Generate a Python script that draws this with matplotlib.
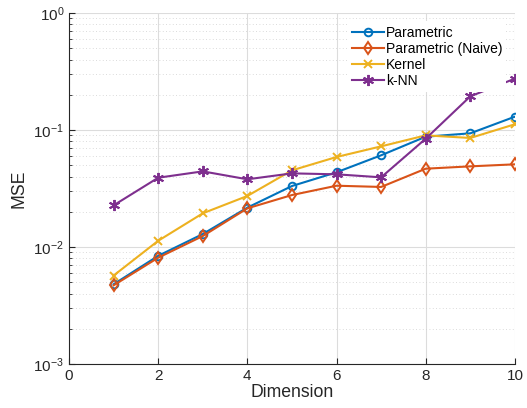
import matplotlib
matplotlib.use("Agg")
import matplotlib.pyplot as plt
from matplotlib.ticker import LogLocator, NullFormatter

plt.rcParams['font.family'] = ['Liberation Sans', 'DejaVu Sans']
plt.rcParams['mathtext.fontset'] = 'custom'
plt.rcParams['mathtext.rm'] = 'Liberation Sans'
plt.rcParams['mathtext.it'] = 'Liberation Sans'

dims = [1, 2, 3, 4, 5, 6, 7, 8, 9, 10]
parametric = [0.0048, 0.0084, 0.0129, 0.0217, 0.0332, 0.0435, 0.0608, 0.0877, 0.0937, 0.130]
naive = [0.0047, 0.0081, 0.0124, 0.0214, 0.0278, 0.0334, 0.0326, 0.0467, 0.0489, 0.0509]
kernel = [0.0057, 0.0113, 0.0194, 0.0273, 0.0452, 0.0588, 0.0725, 0.090, 0.0855, 0.112]
knn = [0.0227, 0.0391, 0.0443, 0.0379, 0.0426, 0.0418, 0.0394, 0.0843, 0.194, 0.275]

series = [
    ("Parametric", parametric, '#0072BD', 'o', 5.5),
    ("Parametric (Naive)", naive, '#D95319', 'd', 6.5),
    ("Kernel", kernel, '#EDB120', 'x', 6),
    ("k-NN", knn, '#7E2F8E', (6, 2, 0), 8),
]

fig = plt.figure(figsize=(5.27, 4.08), dpi=100)
ax = fig.add_axes([0.131, 0.108, 0.846, 0.860])

for name, vals, c, m, ms in series:
    ax.plot(dims, vals, color=c, marker=m, markersize=ms, markerfacecolor='none',
            markeredgewidth=1.4, linewidth=1.5, label=name)

ax.set_yscale('log')
ax.set_xlim(0, 10)
ax.set_ylim(1e-3, 1)
ax.set_xticks([0, 2, 4, 6, 8, 10])
ax.yaxis.set_major_locator(LogLocator(base=10, numticks=10))
ax.yaxis.set_minor_locator(LogLocator(base=10, subs=range(2, 10), numticks=20))
ax.yaxis.set_minor_formatter(NullFormatter())

ax.grid(True, which='major', color='#dcdcdc', linewidth=0.8, linestyle='-')
ax.grid(True, which='minor', axis='y', color='#cfcfcf', linewidth=0.6, linestyle=(0, (1, 3)))
ax.set_axisbelow(True)

for s in ['top', 'right']:
    ax.spines[s].set_visible(False)
for s in ['left', 'bottom']:
    ax.spines[s].set_color('#262626')
    ax.spines[s].set_linewidth(0.8)

ax.tick_params(which='both', direction='in', colors='#262626', labelsize=11)
ax.tick_params(which='major', length=4)
ax.tick_params(which='minor', length=2)

ax.set_xlabel('Dimension', fontsize=12.7, labelpad=1, color='#262626')
ax.set_ylabel('MSE', fontsize=12.7, color='#262626')

leg = ax.legend(loc='upper left', bbox_to_anchor=(0.626, 0.976), borderaxespad=0,
                frameon=True, fontsize=10.0, handlelength=2.25, handletextpad=0.15,
                borderpad=0.3, labelspacing=0.15, framealpha=1)
leg.get_frame().set_edgecolor('white')
leg.get_frame().set_linewidth(0)
leg.get_frame().set_boxstyle('square', pad=0)
leg.set_zorder(5)

fig.savefig('out.png', dpi=100)
